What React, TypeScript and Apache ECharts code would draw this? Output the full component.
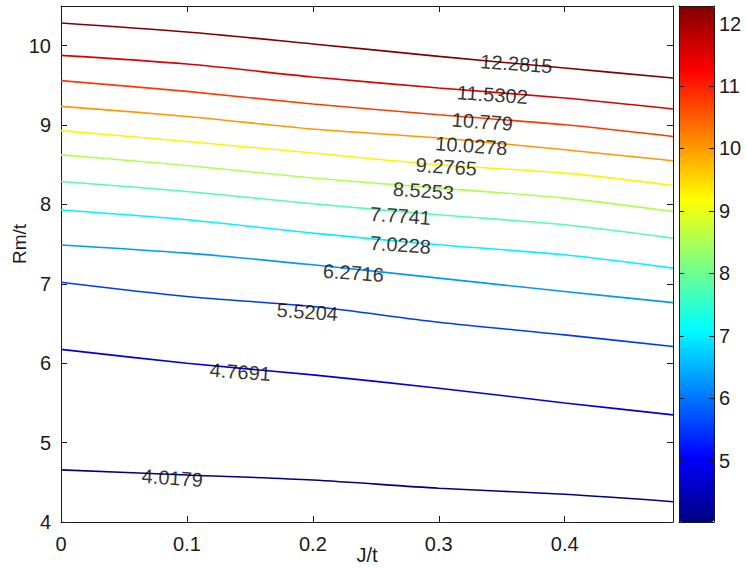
import React, { useEffect, useRef } from "react";
import * as echarts from "echarts";

// J/t sample positions where each contour line was read
const jt = [0, 0.1, 0.2, 0.3, 0.4, 0.486];

// contour levels
const levels = [4.0179, 4.7691, 5.5204, 6.2716, 7.0228, 7.7741, 8.5253, 9.2765, 10.0278, 10.779, 11.5302, 12.2815];

// Rm/t of each contour line at the jt positions
const rm_4_0179 = [4.656, 4.592, 4.529, 4.425, 4.349, 4.256];
const rm_4_7691 = [6.175, 6.0, 5.853, 5.685, 5.5, 5.35];
const rm_5_5204 = [7.02, 6.84, 6.714, 6.517, 6.357, 6.21];
const rm_6_2716 = [7.49, 7.387, 7.24, 7.072, 6.903, 6.764];
const rm_7_0228 = [7.93, 7.807, 7.639, 7.492, 7.366, 7.198];
const rm_7_7741 = [8.29, 8.164, 8.009, 7.87, 7.744, 7.576];
const rm_8_5253 = [8.625, 8.491, 8.333, 8.206, 8.08, 7.911];
const rm_9_2765 = [8.93, 8.794, 8.648, 8.5, 8.395, 8.239];
const rm_10_0278 = [9.235, 9.109, 8.95, 8.837, 8.689, 8.551];
const rm_10_779 = [9.56, 9.424, 9.265, 9.13, 9.004, 8.857];
const rm_11_5302 = [9.878, 9.769, 9.606, 9.467, 9.341, 9.202];
const rm_12_2815 = [10.286, 10.173, 10.022, 9.866, 9.719, 9.593];

const contourRm = [
  rm_4_0179, rm_4_7691, rm_5_5204, rm_6_2716, rm_7_0228, rm_7_7741,
  rm_8_5253, rm_9_2765, rm_10_0278, rm_10_779, rm_11_5302, rm_12_2815,
];

// contour label positions
const labelJ = [0.0884, 0.1424, 0.1956, 0.2322, 0.2695, 0.2695, 0.2878, 0.306, 0.3259, 0.3346, 0.3426, 0.3616];
const labelRm = [4.555, 5.891, 6.647, 7.139, 7.492, 7.857, 8.172, 8.475, 8.74, 9.042, 9.383, 9.773];

// ticks
const xTicks = [0, 0.1, 0.2, 0.3, 0.4];
const yTicks = [4, 5, 6, 7, 8, 9, 10];
const cbTicks = [5, 6, 7, 8, 9, 10, 11, 12];

const xMin = 0;
const xMax = 0.486;
const yMin = 4;
const yMax = 10.5;
const cbMin = 4.0179;
const cbMax = 12.2815;

const FONT = "'Liberation Sans', Arial, Helvetica, sans-serif";
const AX = "#1a1a1a";

function jet(t: number): string {
  const c = (v: number) => Math.round(255 * Math.max(0, Math.min(1, v)));
  const r = c(1.5 - Math.abs(4 * t - 3));
  const g = c(1.5 - Math.abs(4 * t - 2));
  const b = c(1.5 - Math.abs(4 * t - 1));
  return `rgb(${r},${g},${b})`;
}

export default function App() {
  const ref = useRef<HTMLDivElement>(null);
  useEffect(() => {
    if (!ref.current) return;
    const chart = echarts.init(ref.current, null, { renderer: "svg" });
    const n = levels.length;
    const lineSeries = levels.map((lv, i) => ({
      type: "line",
      name: String(lv),
      xAxisIndex: 0,
      yAxisIndex: 0,
      data: jt.map((x, k) => [x, contourRm[i][k]]),
      showSymbol: false,
      symbol: "none",
      smooth: 0.3,
      silent: true,
      z: 2,
      lineStyle: { color: jet(i / (n - 1)), width: 1.6 },
    }));
    const labelSeries = {
      type: "scatter",
      xAxisIndex: 0,
      yAxisIndex: 0,
      symbolSize: 1,
      silent: true,
      z: 5,
      itemStyle: { color: "rgba(0,0,0,0)" },
      data: labelJ.map((x, i) => [x, labelRm[i], levels[i]]),
      label: {
        show: true,
        position: "inside",
        formatter: (p: any) => String(p.value[2]),
        color: "#000",
        fontSize: 20,
        fontFamily: FONT,
        rotate: -4,
      },
    };
    const tickStyle = { lineStyle: { color: AX, width: 1 } };
    const lineAx = { show: true, onZero: false, lineStyle: { color: AX, width: 1 } };
    const labelStyle = { color: "#1a1a1a", fontSize: 20, fontFamily: FONT };
    const option: any = {
      animation: false,
      backgroundColor: "#fff",
      grid: [
        { left: 61, top: 6, width: 612, height: 516, containLabel: false, outerBoundsMode: "none" },
        { left: 679, top: 6, width: 35, height: 516, containLabel: false, outerBoundsMode: "none" },
      ],
      visualMap: {
        type: "continuous",
        min: cbMin,
        max: cbMax,
        seriesIndex: [],
        calculable: false,
        left: 679,
        top: 6,
        padding: 0,
        itemWidth: 35,
        itemHeight: 516,
        text: null,
        showLabel: false,
        inRange: {
          color: ["#000080", "#0000FF", "#0080FF", "#00FFFF", "#80FF80", "#FFFF00", "#FF8000", "#FF0000", "#800000"],
        },
      },
      xAxis: [
        {
          type: "value", gridIndex: 0, position: "bottom", min: xMin, max: xMax,
          axisLine: lineAx,
          axisTick: { show: true, inside: true, length: 6, customValues: xTicks, ...tickStyle },
          axisLabel: { show: true, customValues: xTicks, margin: 12, ...labelStyle },
          splitLine: { show: false },
          name: "J/t", nameLocation: "middle", nameGap: 23, nameMoveOverlap: false,
          nameTextStyle: { color: "#1a1a1a", fontSize: 20, fontFamily: FONT },
        },
        {
          type: "value", gridIndex: 0, position: "top", min: xMin, max: xMax,
          axisLine: lineAx,
          axisTick: { show: true, inside: true, length: 6, customValues: xTicks, ...tickStyle },
          axisLabel: { show: false },
          splitLine: { show: false },
        },
        {
          type: "value", gridIndex: 1, position: "bottom", min: 0, max: 1, z: 10,
          axisLine: lineAx, axisTick: { show: false }, axisLabel: { show: false }, splitLine: { show: false },
        },
        {
          type: "value", gridIndex: 1, position: "top", min: 0, max: 1, z: 10,
          axisLine: lineAx, axisTick: { show: false }, axisLabel: { show: false }, splitLine: { show: false },
        },
      ],
      yAxis: [
        {
          type: "value", gridIndex: 0, position: "left", min: yMin, max: yMax,
          axisLine: lineAx,
          axisTick: { show: true, inside: true, length: 6, customValues: yTicks, ...tickStyle },
          axisLabel: { show: true, customValues: yTicks, margin: 10, ...labelStyle },
          splitLine: { show: false },
          name: "Rm/t", nameLocation: "middle", nameGap: 32, nameMoveOverlap: false,
          nameTextStyle: { color: "#1a1a1a", fontSize: 19, fontFamily: FONT, padding: [0, 0, 0, 40] },
        },
        {
          type: "value", gridIndex: 0, position: "right", min: yMin, max: yMax,
          axisLine: lineAx,
          axisTick: { show: true, inside: true, length: 6, customValues: yTicks, ...tickStyle },
          axisLabel: { show: false },
          splitLine: { show: false },
        },
        {
          type: "value", gridIndex: 1, position: "left", min: cbMin, max: cbMax, z: 10,
          axisLine: lineAx,
          axisTick: { show: true, inside: true, length: 5, customValues: cbTicks, ...tickStyle },
          axisLabel: { show: false },
          splitLine: { show: false },
        },
        {
          type: "value", gridIndex: 1, position: "right", min: cbMin, max: cbMax, z: 10,
          axisLine: lineAx,
          axisTick: { show: true, inside: true, length: 5, customValues: cbTicks, ...tickStyle },
          axisLabel: { show: true, customValues: cbTicks, margin: 5, ...labelStyle },
          splitLine: { show: false },
        },
      ],
      series: [...lineSeries, labelSeries],
    };
    chart.setOption(option);
    return () => chart.dispose();
  }, []);
  return (
    <div
      ref={ref}
      style={{ position: "fixed", left: 0, top: 0, width: 747, height: 568, background: "#fff" }}
    />
  );
}
